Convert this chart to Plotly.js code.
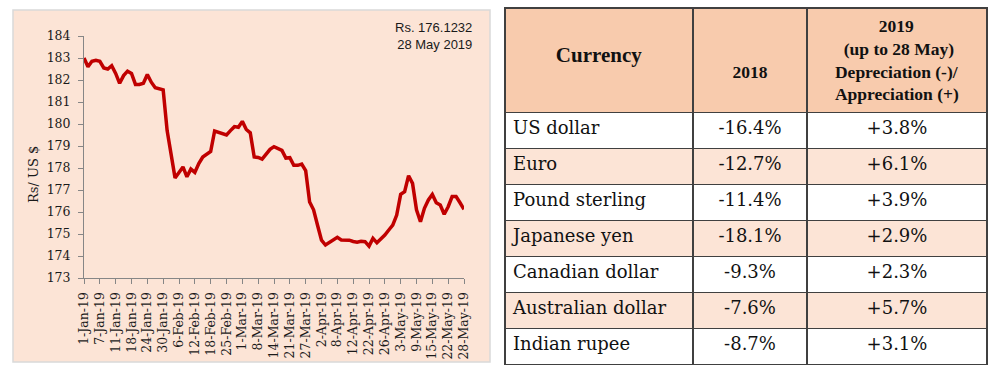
<!DOCTYPE html>
<html>
<head>
<meta charset="utf-8">
<script src="https://cdn.plot.ly/plotly-3.0.1.min.js"></script>
<style>
  html, body { margin: 0; padding: 0; background: #ffffff; }
  #chart { width: 1000px; height: 375px; }
</style>
</head>
<body>
<div id="chart"></div>
<script>
// ---- Data ----
var dates = [
  "1-Jan-19","2-Jan-19","3-Jan-19","4-Jan-19","7-Jan-19","8-Jan-19","9-Jan-19","10-Jan-19","11-Jan-19",
  "14-Jan-19","16-Jan-19","17-Jan-19","18-Jan-19","21-Jan-19","22-Jan-19","23-Jan-19","24-Jan-19",
  "25-Jan-19","28-Jan-19","29-Jan-19","30-Jan-19","31-Jan-19","1-Feb-19","5-Feb-19","6-Feb-19",
  "7-Feb-19","8-Feb-19","11-Feb-19","12-Feb-19","13-Feb-19","14-Feb-19","15-Feb-19","18-Feb-19",
  "20-Feb-19","21-Feb-19","22-Feb-19","25-Feb-19","26-Feb-19","27-Feb-19","28-Feb-19","1-Mar-19",
  "5-Mar-19","6-Mar-19","7-Mar-19","8-Mar-19","11-Mar-19","12-Mar-19","13-Mar-19","14-Mar-19",
  "15-Mar-19","18-Mar-19","19-Mar-19","21-Mar-19","22-Mar-19","25-Mar-19","26-Mar-19","27-Mar-19",
  "28-Mar-19","29-Mar-19","1-Apr-19","2-Apr-19","3-Apr-19","4-Apr-19","5-Apr-19","8-Apr-19",
  "9-Apr-19","10-Apr-19","11-Apr-19","12-Apr-19","16-Apr-19","17-Apr-19","18-Apr-19","22-Apr-19",
  "23-Apr-19","24-Apr-19","25-Apr-19","26-Apr-19","29-Apr-19","30-Apr-19","2-May-19","3-May-19",
  "6-May-19","7-May-19","8-May-19","9-May-19","10-May-19","13-May-19","14-May-19","15-May-19",
  "16-May-19","17-May-19","21-May-19","22-May-19","23-May-19","24-May-19","27-May-19","28-May-19"
];
var rate = [
  183.00,182.60,182.85,182.90,182.85,182.55,182.50,182.65,182.30,
  181.85,182.20,182.40,182.30,181.80,181.80,181.85,182.25,
  181.90,181.65,181.60,181.55,179.70,178.60,177.55,177.80,
  178.05,177.60,177.95,177.80,178.20,178.50,178.65,178.75,
  179.68,179.62,179.56,179.50,179.70,179.88,179.85,180.12,
  179.75,179.60,178.50,178.48,178.40,178.60,178.85,178.97,
  178.90,178.80,178.45,178.47,178.12,178.12,178.18,177.88,
  176.45,176.10,175.40,174.72,174.50,174.62,174.75,174.85,
  174.73,174.73,174.72,174.66,174.63,174.67,174.65,174.45,
  174.80,174.60,174.75,174.95,175.18,175.40,175.86,176.80,
  176.92,177.65,177.30,176.10,175.56,176.17,176.55,176.80,
  176.42,176.32,175.90,176.24,176.70,176.70,176.42,176.12
];
var tickDates = [
  "1-Jan-19","7-Jan-19","11-Jan-19","18-Jan-19","24-Jan-19","30-Jan-19","6-Feb-19","12-Feb-19",
  "18-Feb-19","25-Feb-19","1-Mar-19","8-Mar-19","14-Mar-19","21-Mar-19","27-Mar-19","2-Apr-19",
  "8-Apr-19","12-Apr-19","22-Apr-19","26-Apr-19","3-May-19","9-May-19","15-May-19","22-May-19","28-May-19"
];
var yTicks = [173,174,175,176,177,178,179,180,181,182,183,184];

var currencies = ["US dollar","Euro","Pound sterling","Japanese yen","Canadian dollar","Australian dollar","Indian rupee"];
var change2018 = ["-16.4%","-12.7%","-11.4%","-18.1%","-9.3%","-7.6%","-8.7%"];
var change2019 = ["+3.8%","+6.1%","+3.9%","+2.9%","+2.3%","+5.7%","+3.1%"];
var header2019Lines = ["2019","(up to 28 May)","Depreciation (-)/","Appreciation (+)"];
var latestLabel = "Rs. 176.1232<br>28 May 2019";

// ---- Styling ----
var peach = "#FCE4D6";
var headerFill = "#F8CBAD";
var serif = "DejaVu Serif";
var headSerif = "Liberation Serif";
var rowFill = currencies.map(function (c, i) { return i % 2 === 0 ? "#FFFFFF" : peach; });
var sp = function (n) { return new Array(n + 1).join("\u00a0"); };
// Plotly tables left-align lines inside a centred block, so shorter lines get leading non-breaking spaces
var linePad = [10, 2, 0, 0];
var header2019 = header2019Lines.map(function (t, i) { return sp(linePad[i]) + t; }).join("<br>");

var lineTrace = {
  type: "scatter",
  mode: "lines",
  x: dates,
  y: rate,
  line: { color: "#C00000", width: 3.5 },
  hoverinfo: "x+y",
  showlegend: false,
  xaxis: "x",
  yaxis: "y"
};

var tableTrace = {
  type: "table",
  domain: { x: [0.505, 0.987], y: [6 / 375, 367 / 375] },
  columnwidth: [188, 114, 180],
  header: {
    values: [["\u00a0<br>Currency"], ["\u00a0<br>\u00a0<br>2018"], [header2019]],
    align: "center",
    height: 104,
    fill: { color: headerFill },
    line: { color: "#404040", width: 1.5 },
    font: { family: headSerif, size: [21, 17.5, 17.5], color: "#111111", weight: "bold" }
  },
  cells: {
    values: [currencies, change2018, change2019],
    align: ["left", "center", "center"],
    height: 36,
    fill: { color: [rowFill, rowFill, rowFill] },
    line: { color: "#404040", width: 1.5 },
    font: { family: serif, size: 18, color: "#111111" }
  }
};

var layout = {
  width: 1000,
  height: 375,
  margin: { l: 0, r: 0, t: 0, b: 0 },
  paper_bgcolor: "#FFFFFF",
  plot_bgcolor: "rgba(0,0,0,0)",
  showlegend: false,
  xaxis: {
    domain: [0.084, 0.464],
    type: "category",
    categoryorder: "array",
    categoryarray: dates,
    range: [0, dates.length - 1],
    tickmode: "array",
    tickvals: tickDates,
    ticktext: tickDates,
    tickangle: -90,
    ticks: "outside",
    ticklen: 5,
    tickcolor: "#868686",
    showline: true,
    linecolor: "#868686",
    linewidth: 1,
    showgrid: false,
    zeroline: false,
    ticklabelstandoff: 3,
    tickfont: { family: serif, size: 12.5, color: "#1a1a1a" },
    fixedrange: true
  },
  yaxis: {
    domain: [97 / 375, 339 / 375],
    range: [173, 184],
    tickmode: "array",
    tickvals: yTicks,
    ticks: "outside",
    ticklen: 5,
    tickcolor: "#868686",
    showline: true,
    linecolor: "#868686",
    linewidth: 1,
    showgrid: false,
    zeroline: false,
    ticklabelstandoff: 5,
    tickfont: { family: serif, size: 12.5, color: "#1a1a1a" },
    fixedrange: true
  },
  shapes: [
    {
      type: "rect", xref: "paper", yref: "paper", layer: "below",
      x0: 13 / 1000, x1: 490 / 1000, y0: 13 / 375, y1: 365 / 375,
      fillcolor: peach, line: { color: "#D9D9D9", width: 1.5 }
    }
  ],
  annotations: [
    {
      text: "Rs/ US $", textangle: -90, xref: "paper", yref: "paper",
      x: 33 / 1000, y: 1 - 175 / 375, xanchor: "center", yanchor: "middle",
      showarrow: false,
      font: { family: serif, size: 13, color: "#1a1a1a" }
    },
    {
      text: latestLabel, xref: "paper", yref: "paper",
      x: 474 / 1000, y: 1 - 18 / 375, xanchor: "right", yanchor: "top",
      align: "right", showarrow: false,
      font: { family: "Liberation Sans", size: 13, color: "#1a1a1a" }
    }
  ]
};

Plotly.newPlot("chart", [lineTrace, tableTrace], layout, { displayModeBar: false, staticPlot: true });
</script>
</body>
</html>
